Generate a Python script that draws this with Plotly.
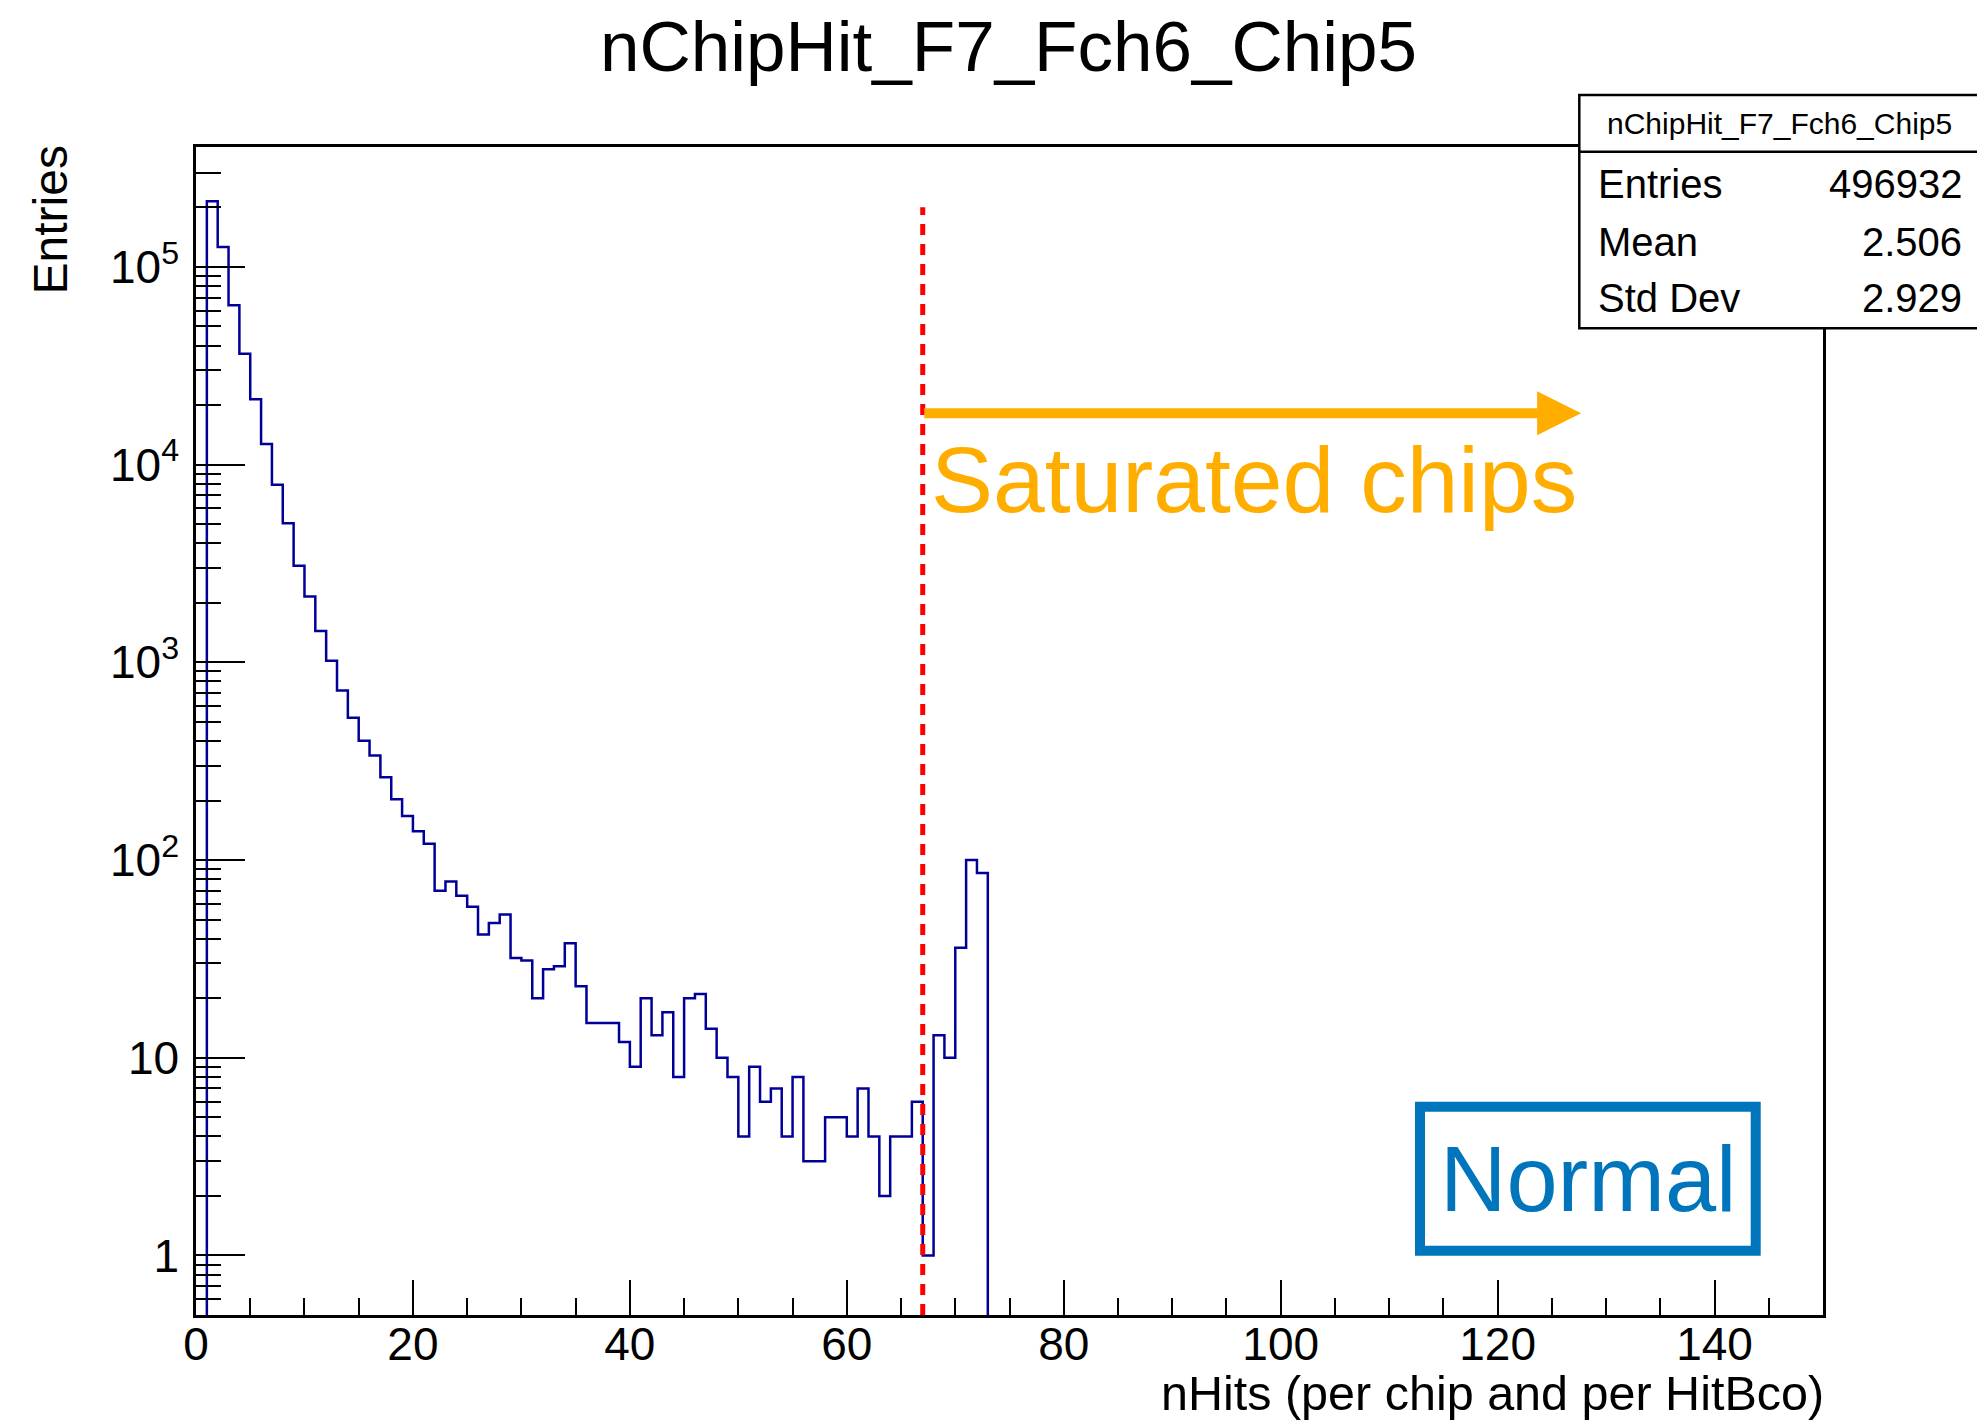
import numpy as np
import plotly.graph_objects as go

# ---------------- data ----------------
bin_low_edges = list(range(0, 73))  # bins [k, k+1)
counts = [0, 215000, 126000, 64000, 36400, 21400, 12700, 7900, 5050, 3080,
          2150, 1440, 1020, 720, 525, 401, 338, 262, 203, 167,
          140, 121, 70, 78, 66, 58, 42, 48, 53, 32,
          31, 20, 28, 29, 38, 23, 15, 15, 15, 12,
          9, 20, 13, 17, 8, 20, 21, 14, 10, 8,
          4, 9, 6, 7, 4, 8, 3, 3, 5, 5,
          4, 7, 4, 2, 4, 4, 6, 1, 13, 10,
          36, 100, 86]
x_range = [0, 150]
y_range = [0.5, 4.04e5]
x_tick_vals = [0, 20, 40, 60, 80, 100, 120, 140]
y_tick_vals = [1, 10, 100, 1000, 10000, 100000]
y_tick_text = ["1", "10", "10<sup>2</sup>", "10<sup>3</sup>", "10<sup>4</sup>", "10<sup>5</sup>"]
title_text = "nChipHit_F7_Fch6_Chip5"
stats_labels = ["Entries", "Mean", "Std Dev"]
stats_values = ["496932", "2.506", "2.929"]
cut_x = 67
cut_top = 2.0e5
arrow_y = 1.82e4
arrow_end_x = 127.7

# ---------------- geometry ----------------
W, H = 1977, 1421
L, R, T, B = 196, 154, 147, 106
PW, PH = W - L - R, H - T - B
FONT = "Liberation Sans"
ORANGE = "#FFAE00"
BLUE = "#0075BB"


def px(xp):
    return (xp - L) / PW


def py(yp):
    return (H - B - yp) / PH


ylog0, ylog1 = np.log10(y_range[0]), np.log10(y_range[1])


def ypaper_from_value(v):
    return (np.log10(v) - ylog0) / (ylog1 - ylog0)


# step outline: zero bins pushed below visible range
tiny = 1e-3
step_x = list(bin_low_edges) + [bin_low_edges[-1] + 1, 150]
step_y = [c if c > 0 else tiny for c in counts] + [tiny, tiny]

fig = go.Figure()
fig.add_trace(go.Scatter(x=step_x, y=step_y, mode="lines",
                         line=dict(shape="hv", color="#000099", width=2.5),
                         showlegend=False, hoverinfo="skip"))

axis_common = dict(showgrid=False, zeroline=False, showline=True, mirror=True,
                   linecolor="black", linewidth=2.5, ticks="inside",
                   tickcolor="black", tickwidth=2,
                   tickfont=dict(family=FONT, size=46, color="black"))

fig.update_xaxes(range=x_range, tickvals=x_tick_vals, ticklen=35,
                 ticklabelstandoff=-13,
                 minor=dict(dtick=5, ticks="inside", ticklen=17, tickwidth=2,
                            tickcolor="black", showgrid=False),
                 **axis_common)
fig.update_yaxes(type="log", range=[ylog0, ylog1], tickvals=y_tick_vals,
                 ticktext=y_tick_text, ticklen=49, ticklabelstandoff=5,
                 minor=dict(dtick="D1", ticks="inside", ticklen=25, tickwidth=2,
                            tickcolor="black", showgrid=False),
                 **axis_common)

shapes = []
# red dashed cut line
shapes.append(dict(type="line", xref="x", yref="paper", x0=cut_x, x1=cut_x,
                   y0=0, y1=ypaper_from_value(cut_top),
                   line=dict(color="#FF0000", width=5, dash="11px,9px")))
# Normal box
shapes.append(dict(type="rect", xref="paper", yref="paper",
                   x0=px(1420), x1=px(1755.7), y0=py(1250.7), y1=py(1106.7),
                   line=dict(color=BLUE, width=10), fillcolor="rgba(0,0,0,0)"))
# stats box
shapes.append(dict(type="rect", xref="paper", yref="paper", layer="above",
                   x0=px(1579.3), x1=px(1995), y0=py(328.3), y1=py(95),
                   line=dict(color="black", width=2.5), fillcolor="white"))
shapes.append(dict(type="line", xref="paper", yref="paper", layer="above",
                   x0=px(1579.3), x1=px(1995), y0=py(151.7), y1=py(151.7),
                   line=dict(color="black", width=2.5)))

annotations = []
# title
annotations.append(dict(text=title_text, xref="paper", yref="paper",
                        x=px(1008.7), y=py(47), xanchor="center", yanchor="middle",
                        showarrow=False, font=dict(family=FONT, size=71, color="black")))
# axis titles
annotations.append(dict(text="nHits (per chip and per HitBco)", xref="paper", yref="paper",
                        x=px(1826), y=py(1393), xanchor="right", yanchor="middle",
                        showarrow=False, font=dict(family=FONT, size=48.5, color="black")))
annotations.append(dict(text="Entries", xref="paper", yref="paper", textangle=-90,
                        x=px(50), y=py(144), xanchor="center", yanchor="top",
                        showarrow=False, font=dict(family=FONT, size=48, color="black")))
# stats text
annotations.append(dict(text=title_text, xref="paper", yref="paper",
                        x=px(1779.5), y=py(124), xanchor="center", yanchor="middle",
                        showarrow=False, font=dict(family=FONT, size=30, color="black")))
row_y = [184, 241.7, 297.5]
for lab, val, yy in zip(stats_labels, stats_values, row_y):
    annotations.append(dict(text=lab, xref="paper", yref="paper",
                            x=px(1596), y=py(yy), xanchor="left", yanchor="middle",
                            showarrow=False, font=dict(family=FONT, size=40, color="black")))
    annotations.append(dict(text=val, xref="paper", yref="paper",
                            x=px(1964), y=py(yy), xanchor="right", yanchor="middle",
                            showarrow=False, font=dict(family=FONT, size=40, color="black")))
# arrow
annotations.append(dict(text="", x=arrow_end_x, y=np.log10(arrow_y), xref="x", yref="y",
                        ax=cut_x, ay=np.log10(arrow_y), axref="x", ayref="y",
                        showarrow=True, arrowhead=2, arrowwidth=10, arrowsize=0.88,
                        arrowcolor=ORANGE))
annotations.append(dict(text="Saturated chips", xref="paper", yref="paper",
                        x=px(929), y=py(480), xanchor="left", yanchor="middle",
                        showarrow=False, font=dict(family=FONT, size=93, color=ORANGE)))
annotations.append(dict(text="Normal", xref="paper", yref="paper",
                        x=px(1587.5), y=py(1179), xanchor="center", yanchor="middle",
                        showarrow=False, font=dict(family=FONT, size=92, color=BLUE)))

fig.update_layout(width=W, height=H, margin=dict(l=L, r=R, t=T, b=B),
                  paper_bgcolor="white", plot_bgcolor="white",
                  shapes=shapes, annotations=annotations)

fig.write_html("out.html")
